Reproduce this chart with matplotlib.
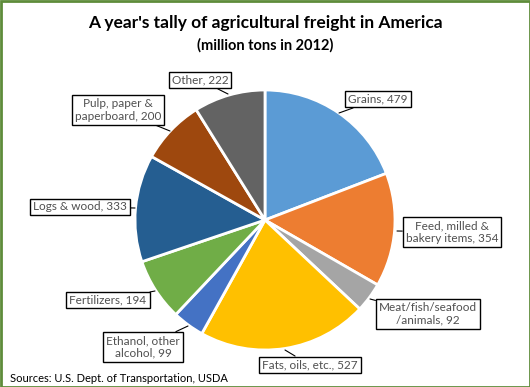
import matplotlib
matplotlib.use("Agg")
import matplotlib.pyplot as plt
from matplotlib.patches import Rectangle

plt.rcParams['font.family'] = ['Lato', 'DejaVu Sans']

# data
categories = ['Grains', 'Feed, milled &\nbakery items', 'Meat/fish/seafood\n/animals',
              'Fats, oils, etc.', 'Ethanol, other\nalcohol', 'Fertilizers',
              'Logs & wood', 'Pulp, paper &\npaperboard', 'Other']
tons = [479, 354, 92, 527, 99, 194, 333, 200, 222]
colors = ['#5B9BD5', '#ED7D31', '#A5A5A5', '#FFC000', '#4472C4',
          '#70AD47', '#255E91', '#9E480E', '#636363']

# label box centres and leader endpoints (pixels, from top-left)
box_pos = [(378, 99), (452, 232), (428, 314), (310, 365), (143, 347),
           (108, 300), (80, 207), (118, 110), (200, 80)]
tip_pos = [(339, 113), (397, 231), (370, 299), (285, 350), (188, 326),
           (155, 291), (135, 208), (170, 131), (228, 94)]

W, H = 530, 387
fig = plt.figure(figsize=(W / 100, H / 100), dpi=100)
ax = fig.add_axes([0, 0, 1, 1])

cx, cy, r = 265, H - 220, 130
ax.pie(tons, colors=colors, startangle=90, counterclock=False,
       center=(cx, cy), radius=r, frame=True,
       wedgeprops=dict(edgecolor='white', linewidth=2))
ax.set_xlim(0, W)
ax.set_ylim(0, H)
ax.axis('off')

for name, val, (bx, by), (tx, ty) in zip(categories, tons, box_pos, tip_pos):
    ax.annotate(f'{name}, {val}', xy=(tx, H - ty), xytext=(bx, H - by),
                ha='center', va='center', fontsize=8.5, color='#505050',
                multialignment='center', linespacing=1.2,
                bbox=dict(boxstyle='square,pad=0.25', fc='white', ec='black', lw=1),
                arrowprops=dict(arrowstyle='-', color='black', lw=0.8,
                                shrinkA=0, shrinkB=0))

fig.text(0.5, 1 - 23 / H, "A year's tally of agricultural freight in America",
         ha='center', va='center', fontsize=12.5, fontweight='bold', color='black')
fig.text(0.5, 1 - 45 / H, '(million tons in 2012)',
         ha='center', va='center', fontsize=10.5, fontweight='bold', color='black')
fig.text(10 / W, 1 - 378 / H, 'Sources: U.S. Dept. of Transportation, USDA',
         ha='left', va='center', fontsize=8, color='black')

fig.patches.append(Rectangle((0.5, 0.5), W - 1, H - 1, transform=None,
                             fill=False, edgecolor='#5E8C3A', linewidth=2))

fig.savefig('out.png', dpi=100)
